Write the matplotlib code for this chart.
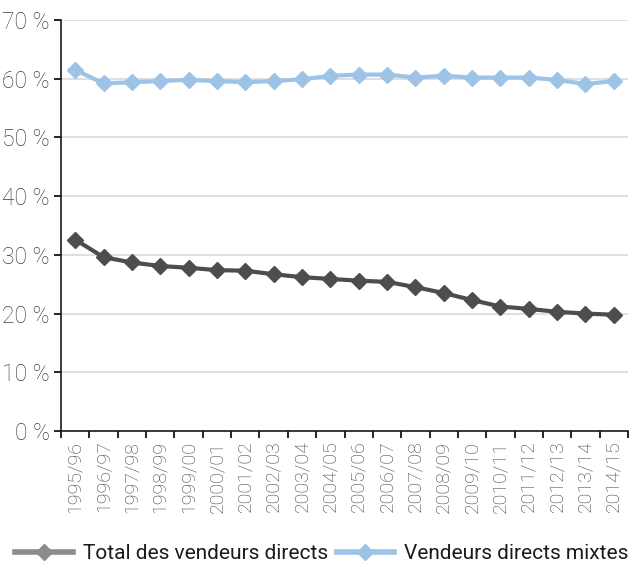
import matplotlib
matplotlib.use("Agg")
import matplotlib.pyplot as plt
from matplotlib.lines import Line2D

years = ["1995/96", "1996/97", "1997/98", "1998/99", "1999/00", "2000/01", "2001/02",
         "2002/03", "2003/04", "2004/05", "2005/06", "2006/07", "2007/08", "2008/09",
         "2009/10", "2010/11", "2011/12", "2012/13", "2013/14", "2014/15"]
total = [32.6, 29.6, 28.7, 28.1, 27.8, 27.4, 27.3, 26.7, 26.2, 25.9, 25.6, 25.4,
         24.5, 23.5, 22.3, 21.2, 20.8, 20.3, 20.0, 19.8]
mixtes = [61.5, 59.2, 59.4, 59.6, 59.8, 59.6, 59.4, 59.6, 59.9, 60.5, 60.7, 60.7,
          60.2, 60.5, 60.2, 60.2, 60.2, 59.8, 59.1, 59.6]
yticks = [0, 10, 20, 30, 40, 50, 60, 70]
labels = ["Total des vendeurs directs", "Vendeurs directs mixtes"]

dark = "#4d4d4d"
blue = "#9dc3e6"
fam = ["Roboto", "DejaVu Sans"]

fig = plt.figure(figsize=(6.29, 5.64), dpi=100)
ax = fig.add_axes([61/629, (564-431)/564, (628-61)/629, (431-20)/564])

x = list(range(len(years)))
ax.plot(x, mixtes, color=blue, lw=3, marker="D", ms=8, zorder=3)
ax.plot(x, total, color=dark, lw=3, marker="D", ms=8, zorder=3)

ax.set_xlim(-0.5, len(years) - 0.5)
ax.set_ylim(0, 70)
ax.set_yticks(yticks)
ax.set_yticklabels([f"{v} %" for v in yticks], family=fam, weight="light",
                   fontsize=16.5, color="#404040")
ax.set_xticks([i - 0.5 for i in range(len(years) + 1)])
ax.set_xticklabels([])
ax.set_xticks(x, minor=True)
ax.set_xticklabels(years, minor=True, rotation=90, family=fam, weight="light",
                   fontsize=14, color="#404040")
ax.tick_params(axis="x", which="minor", length=0, pad=7)
ax.tick_params(axis="x", which="major", length=5, width=1.2, direction="out")
ax.tick_params(axis="y", length=5, width=1.2, direction="out", pad=3)
ax.grid(axis="y", color="#d9d9d9", lw=1.2)
ax.set_axisbelow(True)
for s in ["top", "right"]:
    ax.spines[s].set_visible(False)
for s in ["left", "bottom"]:
    ax.spines[s].set_color("#1a1a1a")
    ax.spines[s].set_linewidth(1.2)

handles = [Line2D([], [], color="#8c8c8c", lw=4, marker="D", ms=8),
           Line2D([], [], color=blue, lw=4, marker="D", ms=8)]
fig.legend(handles, labels, loc="lower center", bbox_to_anchor=(322/629, -0.032), ncol=2,
           frameon=False, handlelength=2.75, columnspacing=0.4, handletextpad=0.5,
           prop={"family": fam, "size": 15}, labelcolor="#1a1a1a")

fig.savefig("out.png", dpi=100)
